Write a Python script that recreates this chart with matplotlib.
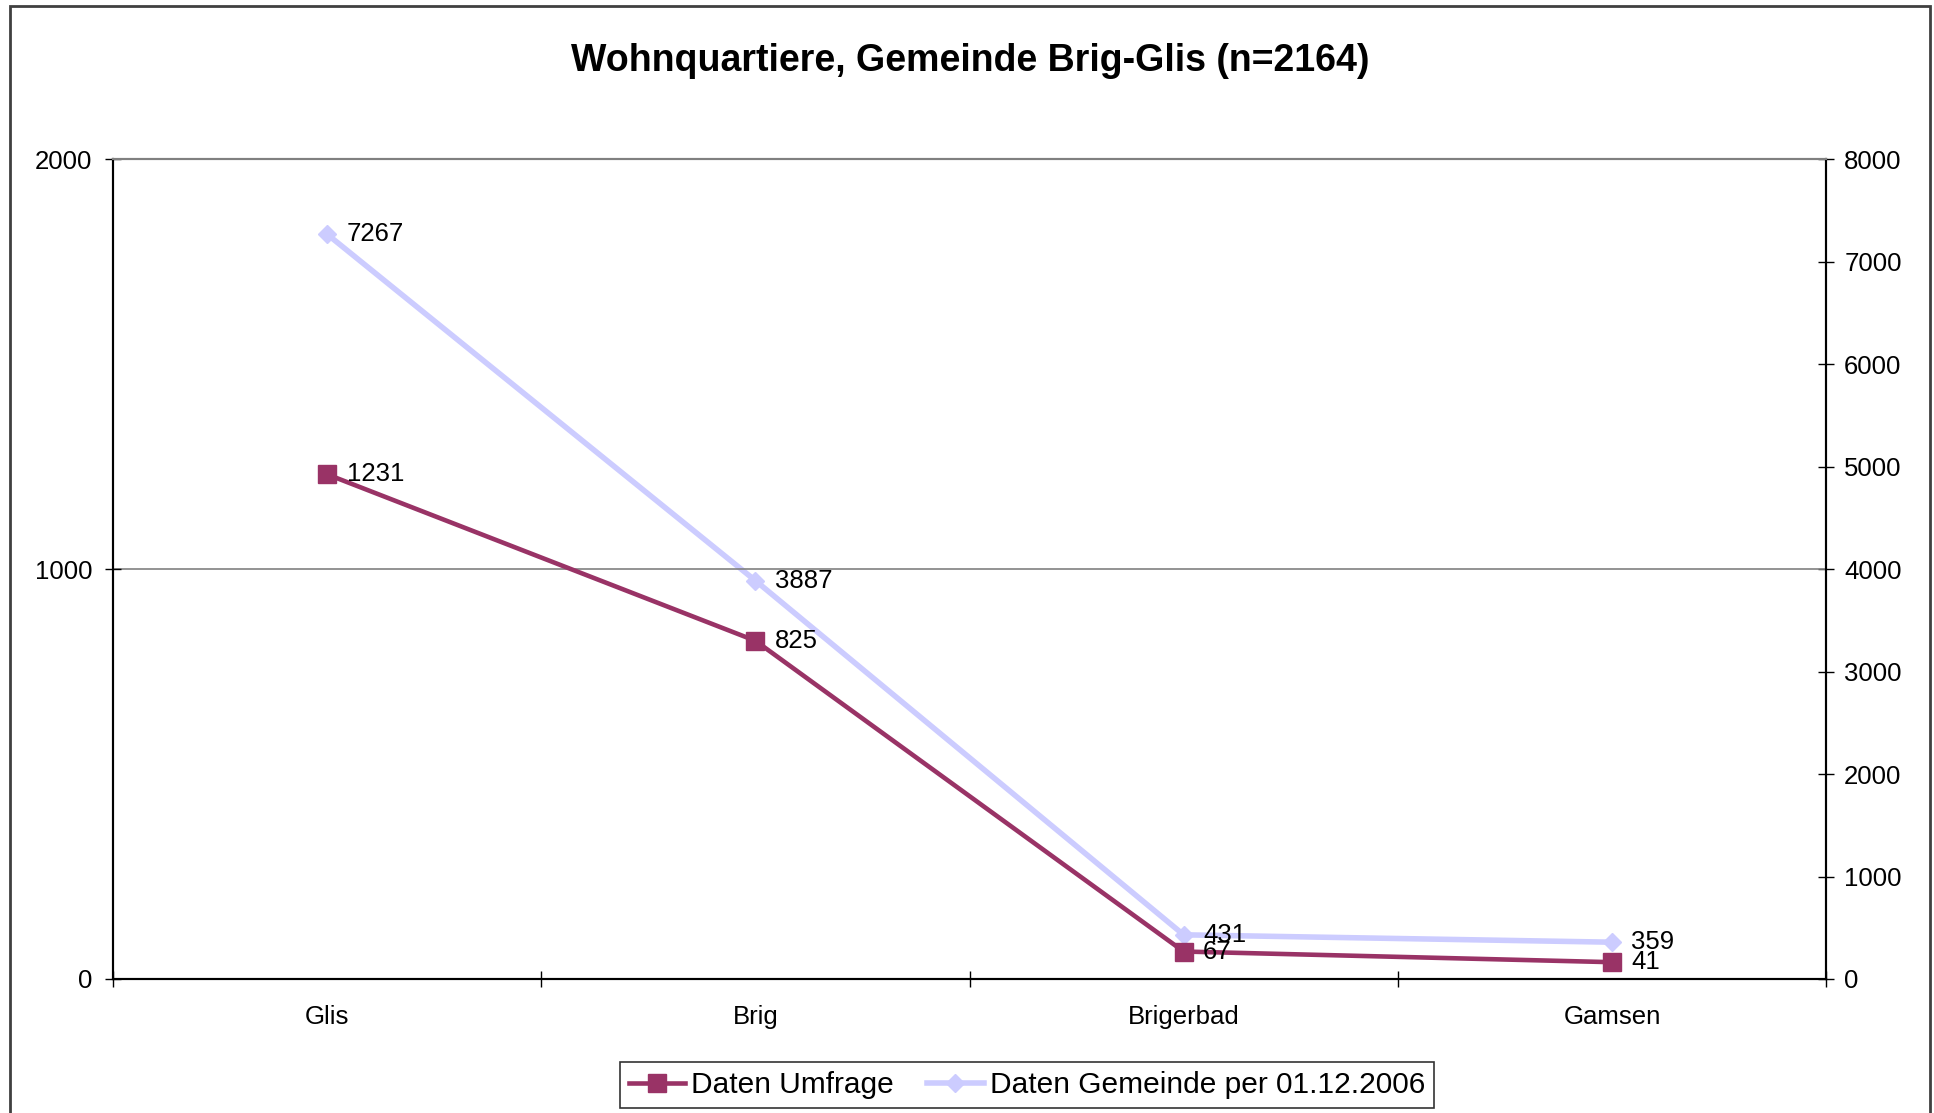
import matplotlib.pyplot as plt
from matplotlib.patches import Rectangle
from matplotlib.ticker import FixedLocator

plt.rcParams['font.family'] = ['Liberation Sans', 'DejaVu Sans']

quartiere = ["Glis", "Brig", "Brigerbad", "Gamsen"]
umfrage = [1231, 825, 67, 41]
gemeinde = [7267, 3887, 431, 359]

purple = "#993366"
lavender = "#CCCCFF"

fig = plt.figure(figsize=(19.34, 11.13), dpi=100)
ax = fig.add_axes([0.0584, 0.1204, 0.8858, 0.7367])
ax2 = ax.twinx()

x = list(range(len(quartiere)))

# light series on the right axis, drawn behind the survey line
ax2.plot(x, gemeinde, color=lavender, linewidth=4, marker="D", markersize=9,
         label="Daten Gemeinde per 01.12.2006")
ax.plot(x, umfrage, color=purple, linewidth=3.3, marker="s", markersize=13,
        label="Daten Umfrage", zorder=5)
ax.set_zorder(ax2.get_zorder() + 1)
ax.patch.set_visible(False)

for xi, v in zip(x, umfrage):
    ax.annotate(str(v), (xi, v), xytext=(14, 0), textcoords="offset points",
                va="center", ha="left", fontsize=18.5, zorder=6)
for xi, v in zip(x, gemeinde):
    ax2.annotate(str(v), (xi, v), xytext=(14, 0), textcoords="offset points",
                 va="center", ha="left", fontsize=18.5)

ax.set_xlim(-0.5, 3.5)
ax.set_ylim(0, 2000)
ax2.set_ylim(0, 8000)
ax.set_yticks([0, 1000, 2000])
ax2.set_yticks(range(0, 8001, 1000))

ax.set_xticks(x)
ax.set_xticklabels(quartiere, fontsize=18.5)
ax.xaxis.set_minor_locator(FixedLocator([-0.5, 0.5, 1.5, 2.5, 3.5]))
ax.tick_params(axis="x", which="major", length=0, pad=19)
ax.tick_params(axis="x", which="minor", direction="inout", length=12, width=1)
ax.tick_params(axis="y", direction="inout", length=12, width=1, labelsize=18.5, pad=9)
ax2.tick_params(axis="y", direction="inout", length=12, width=1, labelsize=18.5, pad=7)

ax.yaxis.grid(True, color="#808080", linewidth=1.2)
ax.set_axisbelow(True)

for a in (ax, ax2):
    a.spines["top"].set_color("#808080")
    a.spines["top"].set_linewidth(1.5)
    a.spines["left"].set_linewidth(1.5)
    a.spines["bottom"].set_linewidth(1.5)
    a.spines["right"].set_linewidth(1.5)

fig.text(0.5015, 0.9448, "Wohnquartiere, Gemeinde Brig-Glis (n=2164)",
         ha="center", va="center", fontsize=27, fontweight="bold")

h1, l1 = ax.get_legend_handles_labels()
h2, l2 = ax2.get_legend_handles_labels()
leg = fig.legend(h1 + h2, l1 + l2, loc="center", bbox_to_anchor=(0.531, 0.025),
                 ncol=2, fontsize=21.5, frameon=True, fancybox=False,
                 edgecolor="black", handlelength=1.9, handletextpad=0.2,
                 columnspacing=1.1, borderpad=0.3)
leg.get_frame().set_linewidth(1.2)

fig.add_artist(Rectangle((10 / 1934, -0.05), 1920 / 1934, 1.05 - 6 / 1113,
                         transform=fig.transFigure, fill=False,
                         edgecolor="#404040", linewidth=2))

fig.savefig("out.png", dpi=100)
